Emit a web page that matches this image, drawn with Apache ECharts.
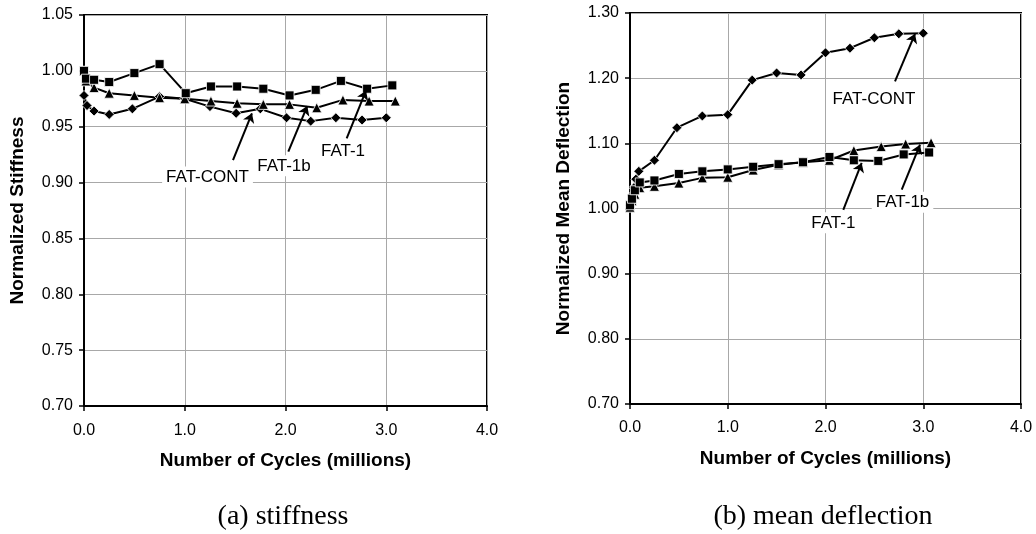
<!DOCTYPE html>
<html><head><meta charset="utf-8">
<script src="https://cdn.jsdelivr.net/npm/echarts@6/dist/echarts.min.js"></script>
<style>html,body{margin:0;padding:0;background:#fff}#c{width:1036px;height:534px}</style>
</head><body><div id="c"></div><script>
// ---- (a) stiffness data ----
const stiffX1 = [0,0.02,0.10,0.25,0.50,0.75,1.01,1.26,1.52,1.78,2.04,2.30,2.55,2.81,3.06];
const stiffFat1 = [1.000,0.993,0.992,0.990,0.998,1.006,0.980,0.986,0.986,0.984,0.978,0.983,0.991,0.984,0.987];
const stiffX1b = [0,0.02,0.10,0.25,0.50,0.75,1.00,1.26,1.52,1.78,2.04,2.31,2.57,2.83,3.09];
const stiffFat1b = [1.000,0.991,0.985,0.980,0.978,0.976,0.975,0.973,0.971,0.970,0.970,0.967,0.974,0.973,0.973];
const stiffXCont = [0,0.03,0.10,0.25,0.48,0.75,1.00,1.25,1.51,1.75,2.01,2.25,2.50,2.76,3.00];
const stiffCont = [0.978,0.969,0.964,0.961,0.966,0.977,0.975,0.968,0.962,0.966,0.958,0.955,0.958,0.956,0.958];
// ---- (b) mean deflection data ----
const deflX1 = [0,0.02,0.05,0.10,0.25,0.50,0.74,1.00,1.26,1.52,1.77,2.04,2.29,2.54,2.80,3.06];
const deflFat1 = [1.005,1.015,1.028,1.040,1.043,1.053,1.057,1.060,1.064,1.068,1.071,1.079,1.074,1.073,1.083,1.086];
const deflX1b = [0,0.02,0.05,0.10,0.25,0.50,0.74,1.00,1.26,1.52,1.77,2.04,2.29,2.57,2.82,3.08];
const deflFat1b = [1.002,1.012,1.022,1.032,1.034,1.039,1.047,1.048,1.059,1.067,1.071,1.074,1.089,1.095,1.099,1.101];
const deflXCont = [0,0.02,0.04,0.06,0.09,0.25,0.48,0.74,1.00,1.25,1.50,1.75,2.00,2.25,2.50,2.75,3.00];
const deflCont = [1.005,1.020,1.032,1.045,1.057,1.074,1.124,1.142,1.144,1.197,1.208,1.205,1.239,1.246,1.262,1.268,1.269];
// ---- annotations (data coordinates) ----
const stiffLabels = [['FAT-CONT',1.226,0.905],['FAT-1b',1.985,0.915],['FAT-1',2.571,0.9276]];
const stiffArrows = [[1.479,0.920,1.667,0.962],[2.028,0.9276,2.216,0.9685],[2.607,0.9396,2.799,0.9822]];
const deflLabels = [['FAT-CONT',2.496,1.168],['FAT-1',2.080,0.978],['FAT-1b',2.788,1.0095]];
const deflArrows = [[2.711,1.195,2.916,1.268],[2.182,0.998,2.370,1.070],[2.780,1.029,2.967,1.098]];
const xTitle = 'Number of Cycles (millions)';
const captions = ['(a) stiffness','(b) mean deflection'];

const FONT = '"Liberation Sans", Arial, sans-serif';
const zip = (xs, ys) => xs.map((x,i)=>[x, ys[i]]);

function xAxis(gi, margin){
  return {type:'value', gridIndex:gi, min:0, max:4, interval:1,
    name:xTitle, nameLocation:'middle', nameGap:45,
    nameTextStyle:{fontFamily:FONT,fontWeight:'bold',fontSize:19,color:'#000'},
    axisLine:{show:true,onZero:false,lineStyle:{color:'#000',width:2}},
    axisTick:{show:true,length:5,lineStyle:{color:'#000',width:1.5}},
    axisLabel:{fontFamily:FONT,fontSize:16,color:'#000',margin:margin,formatter:v=>v.toFixed(1)},
    splitLine:{show:true,lineStyle:{color:'#a8a8a8',width:1}}};
}
function yAxis(gi,min,max,interval,name){
  return {type:'value', gridIndex:gi, min:min, max:max, interval:interval,
    name:name, nameLocation:'middle', nameGap:57,
    nameTextStyle:{fontFamily:FONT,fontWeight:'bold',fontSize:19,color:'#000'},
    axisLine:{show:true,onZero:false,lineStyle:{color:'#000',width:2}},
    axisTick:{show:true,length:5,lineStyle:{color:'#000',width:1.5}},
    axisLabel:{fontFamily:FONT,fontSize:16,color:'#000',margin:11,formatter:v=>v.toFixed(2)},
    splitLine:{show:true,lineStyle:{color:'#a8a8a8',width:1}}};
}
function ser(gi,data,symbol,size){
  return {type:'line', xAxisIndex:gi, yAxisIndex:gi, data:data, symbol:symbol, symbolSize:size,
    showAllSymbol:true, lineStyle:{color:'#000',width:2}, silent:true,
    itemStyle:{color:'#000',borderColor:'#fff',borderWidth:0.8}, emphasis:{disabled:true}};
}
function annot(gi,labels,arrows){
  return {type:'line', xAxisIndex:gi, yAxisIndex:gi, data:[], silent:true, z:5,
    markLine:{silent:true, symbol:['none','arrow'], symbolSize:9, animation:false,
      label:{show:false}, lineStyle:{color:'#000',width:2,type:'solid'},
      emphasis:{disabled:true},
      data: arrows.map(a=>[{coord:[a[0],a[1]]},{coord:[a[2],a[3]]}])},
    markPoint:{silent:true, symbol:'circle', symbolSize:1, animation:false,
      itemStyle:{color:'rgba(0,0,0,0)'},
      label:{show:true, position:'inside', formatter:'{b}', fontFamily:FONT, fontSize:17, color:'#000',
        backgroundColor:'#fff', padding:[2,4]},
      data: labels.map(l=>({name:l[0], coord:[l[1],l[2]]}))}
  };
}

const chart = echarts.init(document.getElementById('c'), null, {renderer:'canvas'});
chart.setOption({
  animation:false,
  backgroundColor:'#fff',
  grid:[
    {left:84, top:15, width:403, height:391, show:true, borderColor:'#000', borderWidth:2, backgroundColor:'transparent'},
    {left:630, top:13, width:391, height:391, show:true, borderColor:'#000', borderWidth:2, backgroundColor:'transparent'}
  ],
  xAxis:[xAxis(0,17), xAxis(1,16)],
  yAxis:[yAxis(0,0.70,1.05,0.05,'Normalized Stiffness'), yAxis(1,0.70,1.30,0.10,'Normalized Mean Deflection')],
  series:[
    ser(0, zip(stiffXCont, stiffCont), 'diamond', 10),
    ser(0, zip(stiffX1b, stiffFat1b), 'triangle', 10),
    ser(0, zip(stiffX1, stiffFat1), 'rect', 9),
    annot(0, stiffLabels, stiffArrows),
    ser(1, zip(deflXCont, deflCont), 'diamond', 10),
    ser(1, zip(deflX1b, deflFat1b), 'triangle', 10),
    ser(1, zip(deflX1, deflFat1), 'rect', 9),
    annot(1, deflLabels, deflArrows)
  ],
  graphic:[
    {type:'text', x:283, y:517, style:{text:captions[0], font:'28px "Liberation Serif", "Times New Roman", serif', fill:'#000', textAlign:'center', textVerticalAlign:'middle'}},
    {type:'text', x:823, y:517, style:{text:captions[1], font:'28px "Liberation Serif", "Times New Roman", serif', fill:'#000', textAlign:'center', textVerticalAlign:'middle'}}
  ]
});
</script></body></html>
